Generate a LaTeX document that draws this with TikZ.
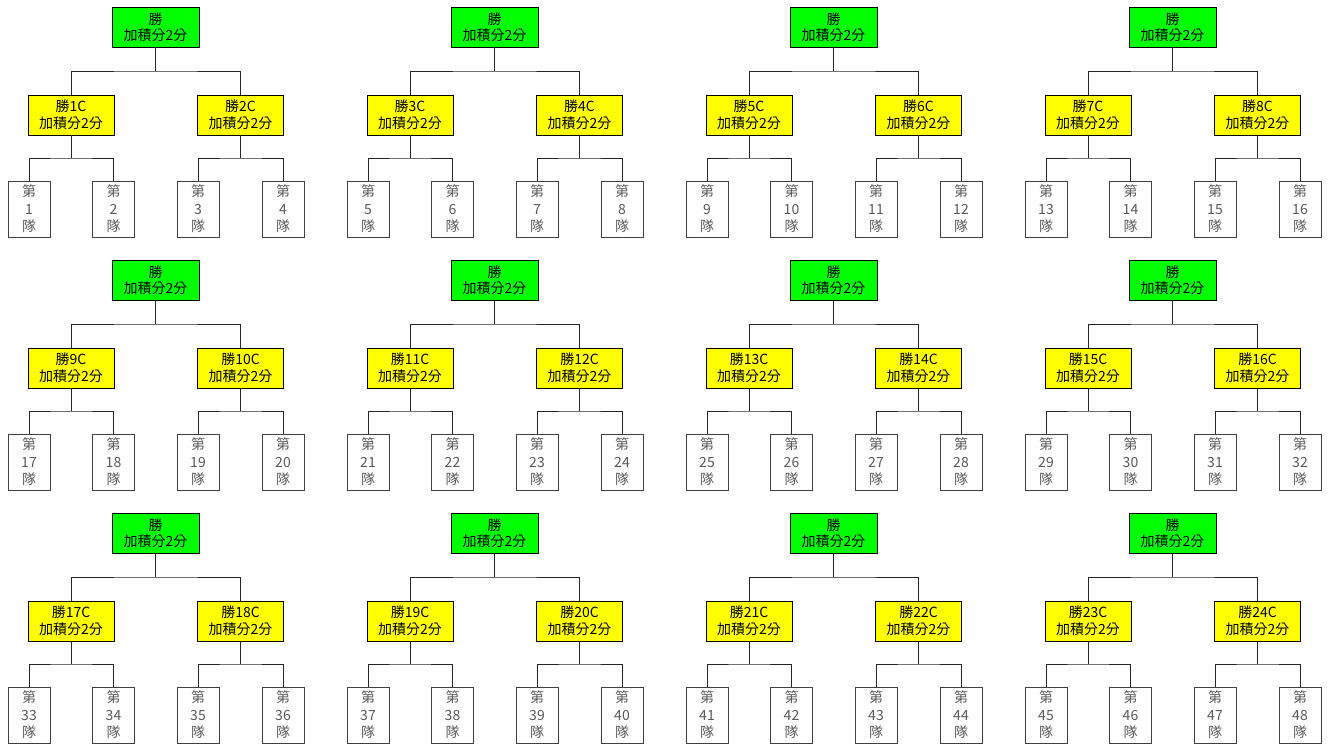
\documentclass[tikz,border=0pt]{standalone}
\usepackage{fontspec}
\setmainfont{Noto Sans CJK TC}
\usepackage{tikz}
\usetikzlibrary{calc}
\definecolor{wingreen}{RGB}{0,255,0}
\definecolor{winyellow}{RGB}{255,255,0}

\begin{document}
\begin{tikzpicture}[x = 1pt, y = -1pt,
    finalbox/.style = {draw, line width=0.8pt, fill=wingreen, minimum width=87pt, minimum height=40pt,
        inner sep=0pt, align=center, font=\fontsize{14}{16.5}\selectfont},
    semibox/.style = {draw, line width=0.8pt, fill=winyellow, minimum width=86pt, minimum height=40pt,
        inner sep=0pt, align=center, font=\fontsize{14}{17}\selectfont},
    teambox/.style = {draw=black!75, line width=0.8pt, minimum width=42pt, minimum height=56pt,
        inner sep=0pt, align=center, text=black!65, font=\fontsize{14}{17.5}\selectfont},
    link/.style = {line width=0.8pt, black!85}]
            \useasboundingbox (0,0) rectangle (1330,746);
            \foreach \t in {0,...,11} {
                \pgfmathtruncatemacro{\col}{mod(\t,4)}
                \pgfmathtruncatemacro{\row}{int(\t/4)}
                \pgfmathtruncatemacro{\sa}{2*\t+1}
                \pgfmathtruncatemacro{\sb}{2*\t+2}
                \pgfmathtruncatemacro{\ta}{4*\t+1}
                \pgfmathtruncatemacro{\tb}{4*\t+2}
                \pgfmathtruncatemacro{\tc}{4*\t+3}
                \pgfmathtruncatemacro{\td}{4*\t+4}
                \begin{scope}[shift={(339*\col,253*\row)}]
                    % boxes
                    \node[finalbox] (win\t) at (155.5,27) {勝\\加積分2分};
                    \node[semibox] (semiA\t) at (71,115) {勝\sa C\\加積分2分};
                    \node[semibox] (semiB\t) at (240.5,115) {勝\sb C\\加積分2分};
                    \node[teambox] (teamA\t) at (29,209) {第\\\ta\\隊};
                    \node[teambox] (teamB\t) at (113.5,209) {第\\\tb\\隊};
                    \node[teambox] (teamC\t) at (198,209) {第\\\tc\\隊};
                    \node[teambox] (teamD\t) at (283,209) {第\\\td\\隊};
                    % links
                    \coordinate (busW\t) at ($(win\t.south)!0.5!(win\t.south |- semiA\t.north)$);
                    \coordinate (busA\t) at ($(semiA\t.south)!0.5!(semiA\t.south |- teamA\t.north)$);
                    \coordinate (busB\t) at ($(semiB\t.south)!0.5!(semiB\t.south |- teamC\t.north)$);
                    \draw[link] (win\t.south) -- (busW\t);
                    \draw[link] (semiA\t.north) |- (busW\t) -| (semiB\t.north);
                    \draw[link] (semiA\t.south) -- (busA\t);
                    \draw[link] (teamA\t.north) |- (busA\t) -| (teamB\t.north);
                    \draw[link] (semiB\t.south) -- (busB\t);
                    \draw[link] (teamC\t.north) |- (busB\t) -| (teamD\t.north);
                \end{scope}
            }
        \end{tikzpicture}
\end{document}
